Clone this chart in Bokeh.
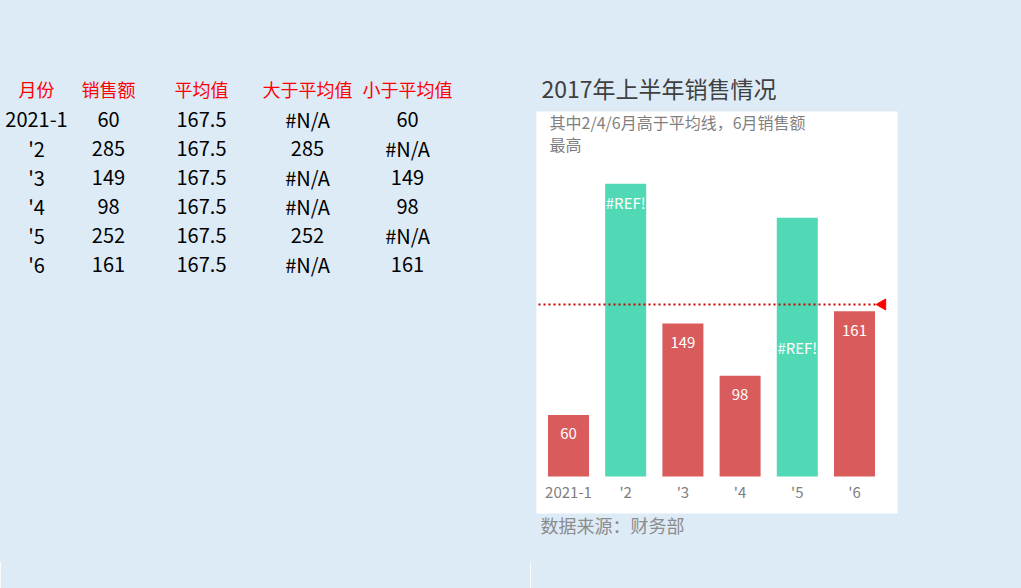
from math import pi
from bokeh.plotting import figure
from bokeh.layouts import row
from bokeh.models import Range1d, LinearAxis, FixedTicker
from bokeh.core.properties import value
from bokeh.embed import file_html
from bokeh.resources import INLINE

# ---------------- data ----------------
months = ["2021-1", "'2", "'3", "'4", "'5", "'6"]
sales = [60, 285, 149, 98, 252, 161]
average = [167.5, 167.5, 167.5, 167.5, 167.5, 167.5]
above_avg = [None, 285, None, None, 252, None]
below_avg = [60, None, 149, 98, None, 161]
bar_labels = ["60", "#REF!", "149", "98", "#REF!", "161"]
label_pos = ["end", "end", "end", "end", "center", "end"]
headers = ["月份", "销售额", "平均值", "大于平均值", "小于平均值"]
chart_title = "2017年上半年销售情况"
subtitle_lines = ["其中2/4/6月高于平均线，6月销售额", "最高"]
source_note = "数据来源：财务部"

BG = "#DDEBF7"
FONT = "Noto Sans CJK SC"
RED = "#D95B5B"
TEAL = "#50D9B4"


def fmt(v):
    if v is None:
        return "#N/A"
    if float(v).is_integer():
        return str(int(v))
    return str(v)


H = 588
LEFT_W = 530
FRAME_BOTTOM = 560          # both frames span page y 0..560

common = dict(toolbar_location=None, output_backend="svg", title=None,
              x_axis_location=None, y_axis_location=None,
              min_border_left=0, min_border_right=0, min_border_top=0,
              min_border_bottom=H - FRAME_BOTTOM,
              background_fill_color=BG, border_fill_color=BG,
              outline_line_color=BG, outline_line_width=3)

# ---------------- table (left) ----------------
tf = figure(width=LEFT_W, height=H, x_range=Range1d(0, LEFT_W), y_range=Range1d(FRAME_BOTTOM, 0), **common)
tf.grid.visible = False

col_x = [36, 108, 201, 307, 407]
header_y = 88
row_y0 = 119
row_dy = 29

tf.text(x=col_x, y=[header_y] * len(headers), text=headers,
        text_align="center", text_baseline="middle",
        text_font=value(FONT), text_font_size="18px", text_color="#FF0000")

cx, cy, ct = [], [], []
for i in range(len(months)):
    cells = [months[i], fmt(sales[i]), fmt(average[i]), fmt(above_avg[i]), fmt(below_avg[i])]
    for c, t in enumerate(cells):
        cx.append(col_x[c])
        cy.append(row_y0 + i * row_dy)
        ct.append(t)
tf.text(x=cx, y=cy, text=ct, text_align="center", text_baseline="middle",
        text_font=value(FONT), text_font_size="20px", text_color="#000000")

# ---------------- chart (right) ----------------
PPU_X = 57.2      # pixels per category
PPU_Y = 1.027     # pixels per sales unit
X0_PX = 568       # page x of first bar centre
Y0_PX = 476       # page y of value 0


def dx(px):
    return (px - X0_PX) / PPU_X


def dy(py):
    return (Y0_PX - py) / PPU_Y


cf = figure(width=1021 - LEFT_W, height=H,
            x_range=Range1d(dx(LEFT_W), dx(1021)), y_range=Range1d(dy(FRAME_BOTTOM), dy(0)), **common)
cf.grid.visible = False

# white chart area
cf.quad(left=dx(536), right=dx(897), top=dy(111), bottom=dy(513),
        fill_color="#FFFFFF", line_color=None)

cf.text(x=[dx(541)], y=[dy(87)], text=[chart_title], text_align="left", text_baseline="middle",
        text_font=value(FONT), text_font_size="23px", text_color="#404040")
cf.text(x=[dx(549)] * len(subtitle_lines), y=[dy(121 + 22 * k) for k in range(len(subtitle_lines))],
        text=subtitle_lines, text_align="left", text_baseline="middle",
        text_font=value(FONT), text_font_size="16px", text_color="#7F7F7F")
cf.text(x=[dx(540)], y=[dy(524)], text=[source_note], text_align="left", text_baseline="middle",
        text_font=value(FONT), text_font_size="18px", text_color="#8C8C8C")

idx = list(range(len(months)))
red_x = [i for i in idx if below_avg[i] is not None]
red_top = [below_avg[i] for i in red_x]
teal_x = [i for i in idx if above_avg[i] is not None]
teal_top = [above_avg[i] for i in teal_x]

cf.vbar(x=red_x, top=red_top, bottom=0, width=0.717, fill_color=RED, line_color=None)
cf.vbar(x=teal_x, top=teal_top, bottom=0, width=0.717, fill_color=TEAL, line_color=None)

label_y = [v - 19 / PPU_Y if pos == "end" else v / 2 for v, pos in zip(sales, label_pos)]
cf.text(x=idx, y=label_y, text=bar_labels, text_align="center", text_baseline="middle",
        text_font=value(FONT), text_font_size="15px", text_color="#FFFFFF")

# average line with arrow head
cf.line(x=[dx(538), dx(878)], y=[average[0], average[-1]],
        line_color="#D00000", line_width=2, line_dash="2 3")
cf.scatter(x=[dx(882)], y=[average[-1]], marker="triangle", angle=pi / 2, size=11,
           fill_color="#FF0000", line_color="#FF0000")

xa = LinearAxis(fixed_location=0, ticker=FixedTicker(ticks=idx),
                major_label_overrides={i: m for i, m in enumerate(months)},
                axis_line_color=None, major_tick_line_color=None, minor_tick_line_color=None,
                major_tick_out=0, major_tick_in=0,
                major_label_text_color="#808080", major_label_text_font=FONT,
                major_label_text_font_size="15px", major_label_standoff=4)
cf.add_layout(xa, "below")

layout = row(tf, cf, spacing=0)
open("out.html", "w").write(file_html(layout, INLINE))
